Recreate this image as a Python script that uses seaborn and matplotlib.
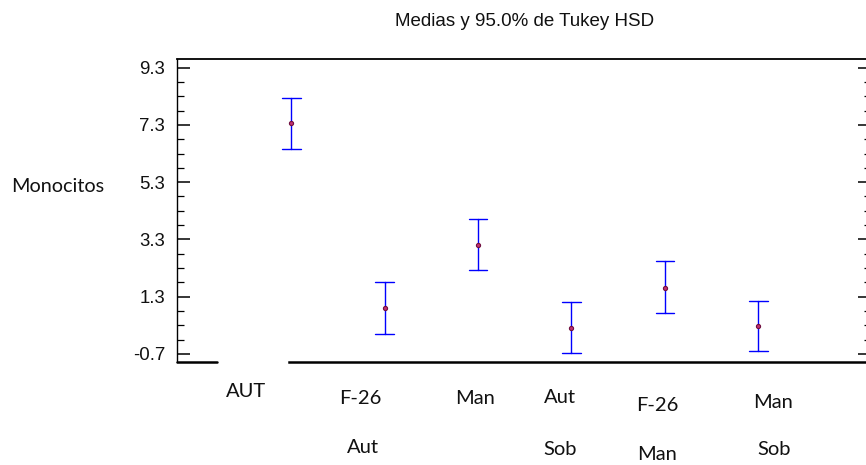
import numpy as np
import pandas as pd
import matplotlib
matplotlib.use("Agg")
import matplotlib.pyplot as plt
import seaborn as sns

# ---- data ----
groups = ["AUT", "F-26 Aut", "Man", "Aut Sob", "F-26 Man", "Man Sob"]
means = [7.38, 0.92, 3.10, 0.21, 1.61, 0.28]
lower = [6.47, -0.01, 2.22, -0.67, 0.73, -0.60]
upper = [8.25, 1.80, 4.00, 1.13, 2.53, 1.16]

label_line1 = ["AUT", "F-26", "Man", "Aut", "F-26", "Man"]
label_line2 = ["", "Aut", "", "Sob", "Man", "Sob"]

yticks_major = [-0.7, 1.3, 3.3, 5.3, 7.3, 9.3]
ytick_labels = ["-0.7", "1.3", "3.3", "5.3", "7.3", "9.3"]

title = "Medias y 95.0% de Tukey HSD"
ylabel = "Monocitos"

# ---- layout (pixels in an 866x465 canvas) ----
W, H = 866, 465
lab1_x = [245.7, 360.7, 475.0, 560.3, 657.3, 773.3]
lab1_base = [396.7, 404.3, 404.3, 403.3, 411.0, 407.7]
lab2_base = [None, 453.3, None, 455.0, 460.0, 455.0]
lab2_x = [None, 363.3, None, 560.0, 657.3, 774.0]

sns.set_style("white")
plt.rcParams["font.family"] = ["Liberation Sans", "DejaVu Sans"]

fig = plt.figure(figsize=(W / 100, H / 100), dpi=100)
ax = fig.add_axes([177 / W, 1 - 362 / H, 694 / W, (362 - 59.3) / H])

rows = []
for g, lo, m, hi in zip(groups, lower, means, upper):
    for v in (lo, m, hi):
        rows.append({"grupo": g, "valor": v})
df = pd.DataFrame(rows)

sns.pointplot(
    data=df, x="grupo", y="valor", order=groups,
    estimator="median", errorbar=("pi", 100),
    capsize=0.2, linestyle="none", color="#0000ff",
    marker="o", markersize=3.0,
    markerfacecolor="#c03070", markeredgecolor="#701040",
    markeredgewidth=0.8,
    err_kws={"linewidth": 1.0},
    ax=ax,
)
for ln in ax.lines:
    if ln.get_marker() not in (None, "None", ""):
        ln.set_zorder(5)

ax.set_xlim(-1.224, 6.207)
ax.set_ylim(-0.98, 9.59)
ax.set_xlabel("")
ax.set_ylabel("")
ax.set_xticks([])

ax.set_yticks(yticks_major)
ax.set_yticklabels(ytick_labels)
minor = [round(v, 2) for v in np.arange(-0.7, 9.31, 0.5) if round(v, 2) not in yticks_major]
ax.set_yticks(minor, minor=True)
ax.tick_params(axis="y", which="major", direction="in", length=9.5, width=1.1,
               labelsize=13.4, pad=8.5, left=True, right=True, labelright=False,
               color="black", labelcolor="#111111")
ax.tick_params(axis="y", which="minor", direction="in", length=5.3, width=0.9,
               left=True, right=True, color="black")

for s in ["top", "left", "bottom", "right"]:
    ax.spines[s].set_color("black")
ax.spines["right"].set_visible(False)
ax.spines["top"].set_linewidth(1.3)
ax.spines["left"].set_linewidth(1.0)
ax.spines["bottom"].set_linewidth(1.8)
ax.spines["bottom"].set_bounds(-0.025, 6.207)
ax.axhline(-0.98, xmin=0, xmax=(217 - 177) / 694, color="black", lw=1.8, clip_on=False)

fig.text(524.5 / W, 1 - 26 / H, title, ha="center", va="baseline",
         fontsize=13.5, color="#111111")
lab_font = ["Lato", "DejaVu Sans"]
fig.text(57.5 / W, 1 - 191.7 / H, ylabel, ha="center", va="baseline",
         fontsize=14.3, family=lab_font, color="#111111")

for t, x, b in zip(label_line1, lab1_x, lab1_base):
    fig.text(x / W, 1 - b / H, t, ha="center", va="baseline", fontsize=14.5,
             family=lab_font, color="#111111")
for t, x, b in zip(label_line2, lab2_x, lab2_base):
    if t:
        fig.text(x / W, 1 - b / H, t, ha="center", va="baseline", fontsize=14.5,
                 family=lab_font, color="#111111")

fig.savefig("out.png", dpi=100, facecolor="white")
